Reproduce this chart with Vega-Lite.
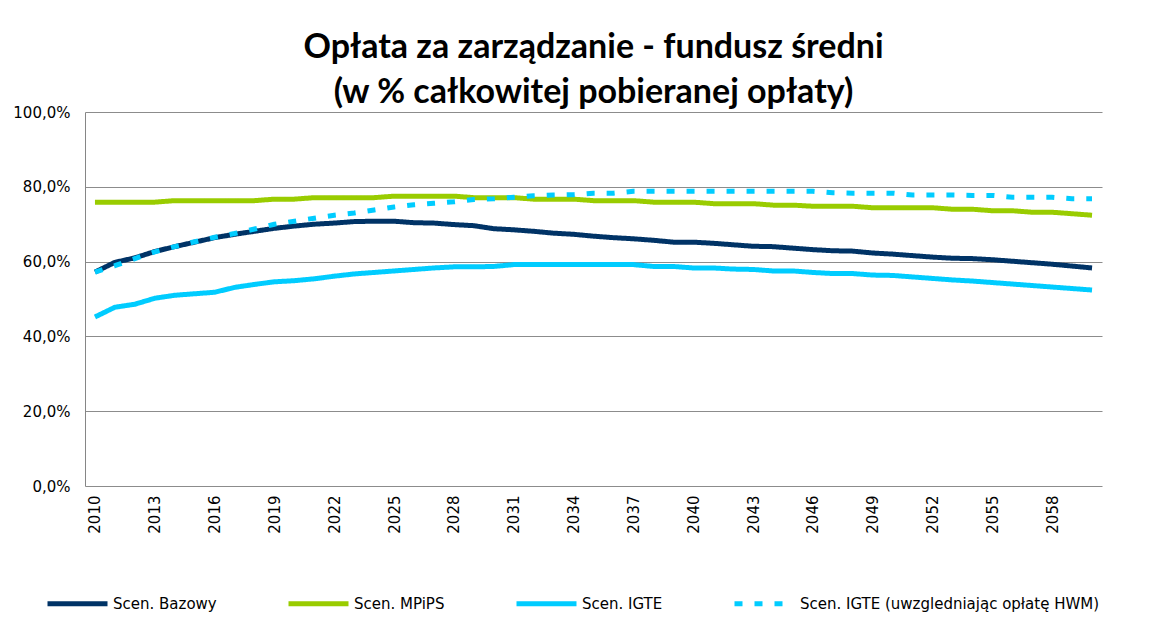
{
  "$schema": "https://vega.github.io/schema/vega-lite/v6.json",
  "autosize": {"type": "none"},
  "padding": {"left": 85, "top": 112, "right": 48, "bottom": 155},
  "width": 1017,
  "height": 374,
  "background": "white",
  "title": {
    "text": ["Opłata za zarządzanie - fundusz średni", "(w % całkowitej pobieranej opłaty)"],
    "font": "Lato",
    "fontSize": 34,
    "fontWeight": "bold",
    "color": "#000000",
    "lineHeight": 45,
    "anchor": "middle",
    "offset": -5
  },
  "data": {
    "values": [
      {"year": 2010, "series": "Scen. Bazowy", "value": 57.2},
      {"year": 2011, "series": "Scen. Bazowy", "value": 59.8},
      {"year": 2012, "series": "Scen. Bazowy", "value": 61.0},
      {"year": 2013, "series": "Scen. Bazowy", "value": 62.7},
      {"year": 2014, "series": "Scen. Bazowy", "value": 64.0},
      {"year": 2015, "series": "Scen. Bazowy", "value": 65.2},
      {"year": 2016, "series": "Scen. Bazowy", "value": 66.4},
      {"year": 2017, "series": "Scen. Bazowy", "value": 67.3},
      {"year": 2018, "series": "Scen. Bazowy", "value": 68.1},
      {"year": 2019, "series": "Scen. Bazowy", "value": 68.9},
      {"year": 2020, "series": "Scen. Bazowy", "value": 69.5},
      {"year": 2021, "series": "Scen. Bazowy", "value": 70.0},
      {"year": 2022, "series": "Scen. Bazowy", "value": 70.3},
      {"year": 2023, "series": "Scen. Bazowy", "value": 70.7},
      {"year": 2024, "series": "Scen. Bazowy", "value": 70.8},
      {"year": 2025, "series": "Scen. Bazowy", "value": 70.8},
      {"year": 2026, "series": "Scen. Bazowy", "value": 70.4},
      {"year": 2027, "series": "Scen. Bazowy", "value": 70.3},
      {"year": 2028, "series": "Scen. Bazowy", "value": 69.9},
      {"year": 2029, "series": "Scen. Bazowy", "value": 69.6},
      {"year": 2030, "series": "Scen. Bazowy", "value": 68.8},
      {"year": 2031, "series": "Scen. Bazowy", "value": 68.5},
      {"year": 2032, "series": "Scen. Bazowy", "value": 68.1},
      {"year": 2033, "series": "Scen. Bazowy", "value": 67.6},
      {"year": 2034, "series": "Scen. Bazowy", "value": 67.3},
      {"year": 2035, "series": "Scen. Bazowy", "value": 66.8},
      {"year": 2036, "series": "Scen. Bazowy", "value": 66.4},
      {"year": 2037, "series": "Scen. Bazowy", "value": 66.1},
      {"year": 2038, "series": "Scen. Bazowy", "value": 65.7},
      {"year": 2039, "series": "Scen. Bazowy", "value": 65.2},
      {"year": 2040, "series": "Scen. Bazowy", "value": 65.2},
      {"year": 2041, "series": "Scen. Bazowy", "value": 64.9},
      {"year": 2042, "series": "Scen. Bazowy", "value": 64.5},
      {"year": 2043, "series": "Scen. Bazowy", "value": 64.1},
      {"year": 2044, "series": "Scen. Bazowy", "value": 64.0},
      {"year": 2045, "series": "Scen. Bazowy", "value": 63.6},
      {"year": 2046, "series": "Scen. Bazowy", "value": 63.2},
      {"year": 2047, "series": "Scen. Bazowy", "value": 62.9},
      {"year": 2048, "series": "Scen. Bazowy", "value": 62.8},
      {"year": 2049, "series": "Scen. Bazowy", "value": 62.3},
      {"year": 2050, "series": "Scen. Bazowy", "value": 62.0},
      {"year": 2051, "series": "Scen. Bazowy", "value": 61.6},
      {"year": 2052, "series": "Scen. Bazowy", "value": 61.2},
      {"year": 2053, "series": "Scen. Bazowy", "value": 60.9},
      {"year": 2054, "series": "Scen. Bazowy", "value": 60.8},
      {"year": 2055, "series": "Scen. Bazowy", "value": 60.5},
      {"year": 2056, "series": "Scen. Bazowy", "value": 60.1},
      {"year": 2057, "series": "Scen. Bazowy", "value": 59.7},
      {"year": 2058, "series": "Scen. Bazowy", "value": 59.3},
      {"year": 2059, "series": "Scen. Bazowy", "value": 58.8},
      {"year": 2060, "series": "Scen. Bazowy", "value": 58.3},
      {"year": 2010, "series": "Scen. MPiPS", "value": 75.9},
      {"year": 2011, "series": "Scen. MPiPS", "value": 75.9},
      {"year": 2012, "series": "Scen. MPiPS", "value": 75.9},
      {"year": 2013, "series": "Scen. MPiPS", "value": 75.9},
      {"year": 2014, "series": "Scen. MPiPS", "value": 76.3},
      {"year": 2015, "series": "Scen. MPiPS", "value": 76.3},
      {"year": 2016, "series": "Scen. MPiPS", "value": 76.3},
      {"year": 2017, "series": "Scen. MPiPS", "value": 76.3},
      {"year": 2018, "series": "Scen. MPiPS", "value": 76.3},
      {"year": 2019, "series": "Scen. MPiPS", "value": 76.7},
      {"year": 2020, "series": "Scen. MPiPS", "value": 76.7},
      {"year": 2021, "series": "Scen. MPiPS", "value": 77.1},
      {"year": 2022, "series": "Scen. MPiPS", "value": 77.1},
      {"year": 2023, "series": "Scen. MPiPS", "value": 77.1},
      {"year": 2024, "series": "Scen. MPiPS", "value": 77.1},
      {"year": 2025, "series": "Scen. MPiPS", "value": 77.5},
      {"year": 2026, "series": "Scen. MPiPS", "value": 77.5},
      {"year": 2027, "series": "Scen. MPiPS", "value": 77.5},
      {"year": 2028, "series": "Scen. MPiPS", "value": 77.5},
      {"year": 2029, "series": "Scen. MPiPS", "value": 77.1},
      {"year": 2030, "series": "Scen. MPiPS", "value": 77.1},
      {"year": 2031, "series": "Scen. MPiPS", "value": 77.1},
      {"year": 2032, "series": "Scen. MPiPS", "value": 76.7},
      {"year": 2033, "series": "Scen. MPiPS", "value": 76.7},
      {"year": 2034, "series": "Scen. MPiPS", "value": 76.7},
      {"year": 2035, "series": "Scen. MPiPS", "value": 76.3},
      {"year": 2036, "series": "Scen. MPiPS", "value": 76.3},
      {"year": 2037, "series": "Scen. MPiPS", "value": 76.3},
      {"year": 2038, "series": "Scen. MPiPS", "value": 75.9},
      {"year": 2039, "series": "Scen. MPiPS", "value": 75.9},
      {"year": 2040, "series": "Scen. MPiPS", "value": 75.9},
      {"year": 2041, "series": "Scen. MPiPS", "value": 75.5},
      {"year": 2042, "series": "Scen. MPiPS", "value": 75.5},
      {"year": 2043, "series": "Scen. MPiPS", "value": 75.5},
      {"year": 2044, "series": "Scen. MPiPS", "value": 75.1},
      {"year": 2045, "series": "Scen. MPiPS", "value": 75.1},
      {"year": 2046, "series": "Scen. MPiPS", "value": 74.8},
      {"year": 2047, "series": "Scen. MPiPS", "value": 74.8},
      {"year": 2048, "series": "Scen. MPiPS", "value": 74.8},
      {"year": 2049, "series": "Scen. MPiPS", "value": 74.4},
      {"year": 2050, "series": "Scen. MPiPS", "value": 74.4},
      {"year": 2051, "series": "Scen. MPiPS", "value": 74.4},
      {"year": 2052, "series": "Scen. MPiPS", "value": 74.4},
      {"year": 2053, "series": "Scen. MPiPS", "value": 74.0},
      {"year": 2054, "series": "Scen. MPiPS", "value": 74.0},
      {"year": 2055, "series": "Scen. MPiPS", "value": 73.6},
      {"year": 2056, "series": "Scen. MPiPS", "value": 73.6},
      {"year": 2057, "series": "Scen. MPiPS", "value": 73.2},
      {"year": 2058, "series": "Scen. MPiPS", "value": 73.2},
      {"year": 2059, "series": "Scen. MPiPS", "value": 72.8},
      {"year": 2060, "series": "Scen. MPiPS", "value": 72.4},
      {"year": 2010, "series": "Scen. IGTE", "value": 45.2},
      {"year": 2011, "series": "Scen. IGTE", "value": 47.8},
      {"year": 2012, "series": "Scen. IGTE", "value": 48.6},
      {"year": 2013, "series": "Scen. IGTE", "value": 50.2},
      {"year": 2014, "series": "Scen. IGTE", "value": 51.0},
      {"year": 2015, "series": "Scen. IGTE", "value": 51.4},
      {"year": 2016, "series": "Scen. IGTE", "value": 51.8},
      {"year": 2017, "series": "Scen. IGTE", "value": 53.1},
      {"year": 2018, "series": "Scen. IGTE", "value": 53.9},
      {"year": 2019, "series": "Scen. IGTE", "value": 54.6},
      {"year": 2020, "series": "Scen. IGTE", "value": 54.9},
      {"year": 2021, "series": "Scen. IGTE", "value": 55.4},
      {"year": 2022, "series": "Scen. IGTE", "value": 56.1},
      {"year": 2023, "series": "Scen. IGTE", "value": 56.7},
      {"year": 2024, "series": "Scen. IGTE", "value": 57.1},
      {"year": 2025, "series": "Scen. IGTE", "value": 57.5},
      {"year": 2026, "series": "Scen. IGTE", "value": 57.9},
      {"year": 2027, "series": "Scen. IGTE", "value": 58.3},
      {"year": 2028, "series": "Scen. IGTE", "value": 58.6},
      {"year": 2029, "series": "Scen. IGTE", "value": 58.6},
      {"year": 2030, "series": "Scen. IGTE", "value": 58.7},
      {"year": 2031, "series": "Scen. IGTE", "value": 59.2},
      {"year": 2032, "series": "Scen. IGTE", "value": 59.2},
      {"year": 2033, "series": "Scen. IGTE", "value": 59.2},
      {"year": 2034, "series": "Scen. IGTE", "value": 59.2},
      {"year": 2035, "series": "Scen. IGTE", "value": 59.2},
      {"year": 2036, "series": "Scen. IGTE", "value": 59.2},
      {"year": 2037, "series": "Scen. IGTE", "value": 59.2},
      {"year": 2038, "series": "Scen. IGTE", "value": 58.7},
      {"year": 2039, "series": "Scen. IGTE", "value": 58.7},
      {"year": 2040, "series": "Scen. IGTE", "value": 58.3},
      {"year": 2041, "series": "Scen. IGTE", "value": 58.3},
      {"year": 2042, "series": "Scen. IGTE", "value": 58.0},
      {"year": 2043, "series": "Scen. IGTE", "value": 57.9},
      {"year": 2044, "series": "Scen. IGTE", "value": 57.5},
      {"year": 2045, "series": "Scen. IGTE", "value": 57.5},
      {"year": 2046, "series": "Scen. IGTE", "value": 57.1},
      {"year": 2047, "series": "Scen. IGTE", "value": 56.8},
      {"year": 2048, "series": "Scen. IGTE", "value": 56.8},
      {"year": 2049, "series": "Scen. IGTE", "value": 56.4},
      {"year": 2050, "series": "Scen. IGTE", "value": 56.3},
      {"year": 2051, "series": "Scen. IGTE", "value": 55.9},
      {"year": 2052, "series": "Scen. IGTE", "value": 55.5},
      {"year": 2053, "series": "Scen. IGTE", "value": 55.1},
      {"year": 2054, "series": "Scen. IGTE", "value": 54.8},
      {"year": 2055, "series": "Scen. IGTE", "value": 54.4},
      {"year": 2056, "series": "Scen. IGTE", "value": 54.0},
      {"year": 2057, "series": "Scen. IGTE", "value": 53.6},
      {"year": 2058, "series": "Scen. IGTE", "value": 53.2},
      {"year": 2059, "series": "Scen. IGTE", "value": 52.8},
      {"year": 2060, "series": "Scen. IGTE", "value": 52.4},
      {"year": 2010, "series": "Scen. IGTE (uwzgledniając opłatę HWM)", "value": 57.2},
      {"year": 2011, "series": "Scen. IGTE (uwzgledniając opłatę HWM)", "value": 58.9},
      {"year": 2012, "series": "Scen. IGTE (uwzgledniając opłatę HWM)", "value": 60.8},
      {"year": 2013, "series": "Scen. IGTE (uwzgledniając opłatę HWM)", "value": 62.6},
      {"year": 2014, "series": "Scen. IGTE (uwzgledniając opłatę HWM)", "value": 64.0},
      {"year": 2015, "series": "Scen. IGTE (uwzgledniając opłatę HWM)", "value": 65.3},
      {"year": 2016, "series": "Scen. IGTE (uwzgledniając opłatę HWM)", "value": 66.5},
      {"year": 2017, "series": "Scen. IGTE (uwzgledniając opłatę HWM)", "value": 67.5},
      {"year": 2018, "series": "Scen. IGTE (uwzgledniając opłatę HWM)", "value": 68.7},
      {"year": 2019, "series": "Scen. IGTE (uwzgledniając opłatę HWM)", "value": 70.0},
      {"year": 2020, "series": "Scen. IGTE (uwzgledniając opłatę HWM)", "value": 70.8},
      {"year": 2021, "series": "Scen. IGTE (uwzgledniając opłatę HWM)", "value": 71.6},
      {"year": 2022, "series": "Scen. IGTE (uwzgledniając opłatę HWM)", "value": 72.4},
      {"year": 2023, "series": "Scen. IGTE (uwzgledniając opłatę HWM)", "value": 73.0},
      {"year": 2024, "series": "Scen. IGTE (uwzgledniając opłatę HWM)", "value": 73.8},
      {"year": 2025, "series": "Scen. IGTE (uwzgledniając opłatę HWM)", "value": 74.6},
      {"year": 2026, "series": "Scen. IGTE (uwzgledniając opłatę HWM)", "value": 75.2},
      {"year": 2027, "series": "Scen. IGTE (uwzgledniając opłatę HWM)", "value": 75.6},
      {"year": 2028, "series": "Scen. IGTE (uwzgledniając opłatę HWM)", "value": 76.0},
      {"year": 2029, "series": "Scen. IGTE (uwzgledniając opłatę HWM)", "value": 76.6},
      {"year": 2030, "series": "Scen. IGTE (uwzgledniając opłatę HWM)", "value": 76.8},
      {"year": 2031, "series": "Scen. IGTE (uwzgledniając opłatę HWM)", "value": 77.2},
      {"year": 2032, "series": "Scen. IGTE (uwzgledniając opłatę HWM)", "value": 77.6},
      {"year": 2033, "series": "Scen. IGTE (uwzgledniając opłatę HWM)", "value": 77.8},
      {"year": 2034, "series": "Scen. IGTE (uwzgledniając opłatę HWM)", "value": 77.9},
      {"year": 2035, "series": "Scen. IGTE (uwzgledniając opłatę HWM)", "value": 78.3},
      {"year": 2036, "series": "Scen. IGTE (uwzgledniając opłatę HWM)", "value": 78.3},
      {"year": 2037, "series": "Scen. IGTE (uwzgledniając opłatę HWM)", "value": 78.8},
      {"year": 2038, "series": "Scen. IGTE (uwzgledniając opłatę HWM)", "value": 78.8},
      {"year": 2039, "series": "Scen. IGTE (uwzgledniając opłatę HWM)", "value": 78.8},
      {"year": 2040, "series": "Scen. IGTE (uwzgledniając opłatę HWM)", "value": 78.8},
      {"year": 2041, "series": "Scen. IGTE (uwzgledniając opłatę HWM)", "value": 78.8},
      {"year": 2042, "series": "Scen. IGTE (uwzgledniając opłatę HWM)", "value": 78.8},
      {"year": 2043, "series": "Scen. IGTE (uwzgledniając opłatę HWM)", "value": 78.8},
      {"year": 2044, "series": "Scen. IGTE (uwzgledniając opłatę HWM)", "value": 78.8},
      {"year": 2045, "series": "Scen. IGTE (uwzgledniając opłatę HWM)", "value": 78.8},
      {"year": 2046, "series": "Scen. IGTE (uwzgledniając opłatę HWM)", "value": 78.8},
      {"year": 2047, "series": "Scen. IGTE (uwzgledniając opłatę HWM)", "value": 78.4},
      {"year": 2048, "series": "Scen. IGTE (uwzgledniając opłatę HWM)", "value": 78.3},
      {"year": 2049, "series": "Scen. IGTE (uwzgledniając opłatę HWM)", "value": 78.3},
      {"year": 2050, "series": "Scen. IGTE (uwzgledniając opłatę HWM)", "value": 78.3},
      {"year": 2051, "series": "Scen. IGTE (uwzgledniając opłatę HWM)", "value": 77.8},
      {"year": 2052, "series": "Scen. IGTE (uwzgledniając opłatę HWM)", "value": 77.8},
      {"year": 2053, "series": "Scen. IGTE (uwzgledniając opłatę HWM)", "value": 77.8},
      {"year": 2054, "series": "Scen. IGTE (uwzgledniając opłatę HWM)", "value": 77.7},
      {"year": 2055, "series": "Scen. IGTE (uwzgledniając opłatę HWM)", "value": 77.7},
      {"year": 2056, "series": "Scen. IGTE (uwzgledniając opłatę HWM)", "value": 77.2},
      {"year": 2057, "series": "Scen. IGTE (uwzgledniając opłatę HWM)", "value": 77.2},
      {"year": 2058, "series": "Scen. IGTE (uwzgledniając opłatę HWM)", "value": 77.2},
      {"year": 2059, "series": "Scen. IGTE (uwzgledniając opłatę HWM)", "value": 76.8},
      {"year": 2060, "series": "Scen. IGTE (uwzgledniając opłatę HWM)", "value": 76.8}
    ]
  },
  "mark": {"type": "line", "strokeCap": "butt", "strokeJoin": "round"},
  "encoding": {
    "x": {
      "field": "year",
      "type": "quantitative",
      "scale": {"domain": [2009.5, 2060.5], "nice": false, "zero": false},
      "axis": {
        "title": null,
        "values": [2010, 2013, 2016, 2019, 2022, 2025, 2028, 2031, 2034, 2037, 2040, 2043, 2046, 2049, 2052, 2055, 2058],
        "format": "d",
        "labelAngle": -90,
        "labelPadding": 9,
        "ticks": false,
        "domain": false,
        "grid": false,
        "labelFont": "DejaVu Sans",
        "labelFontSize": 15,
        "labelColor": "#000000"
      }
    },
    "y": {
      "field": "value",
      "type": "quantitative",
      "scale": {"domain": [0, 100], "nice": false},
      "axis": {
        "title": null,
        "values": [0, 20, 40, 60, 80, 100],
        "labelExpr": "replace(format(datum.value, '.1f'), '.', ',') + '%'",
        "ticks": false,
        "labelPadding": 15,
        "domainColor": "#868686",
        "domainWidth": 1,
        "gridColor": "#8c8c8c",
        "gridWidth": 1,
        "labelFont": "DejaVu Sans",
        "labelFontSize": 15,
        "labelColor": "#000000"
      }
    },
    "color": {
      "field": "series",
      "type": "nominal",
      "scale": {
        "domain": ["Scen. Bazowy", "Scen. MPiPS", "Scen. IGTE", "Scen. IGTE (uwzgledniając opłatę HWM)"],
        "range": ["#003366", "#99CC00", "#00CCFF", "#00CCFF"]
      },
      "legend": {
        "title": null,
        "orient": "none",
        "legendX": -40,
        "legendY": 459,
        "direction": "horizontal",
        "symbolType": "stroke",
        "symbolSize": 3600,
        "labelFont": "DejaVu Sans",
        "labelFontSize": 15,
        "labelColor": "#000000",
        "labelOffset": 3,
        "columnPadding": 61,
        "labelLimit": 400
      }
    },
    "strokeDash": {
      "field": "series",
      "type": "nominal",
      "scale": {
        "domain": ["Scen. Bazowy", "Scen. MPiPS", "Scen. IGTE", "Scen. IGTE (uwzgledniając opłatę HWM)"],
        "range": [[1, 0], [1, 0], [1, 0], [8, 12]]
      },
      "legend": null
    },
    "strokeWidth": {
      "field": "series",
      "type": "nominal",
      "scale": {
        "domain": ["Scen. Bazowy", "Scen. MPiPS", "Scen. IGTE", "Scen. IGTE (uwzgledniając opłatę HWM)"],
        "range": [5, 5, 3, 4.5]
      },
      "legend": null
    }
  },
  "config": {
    "view": {"stroke": null}
  }
}
